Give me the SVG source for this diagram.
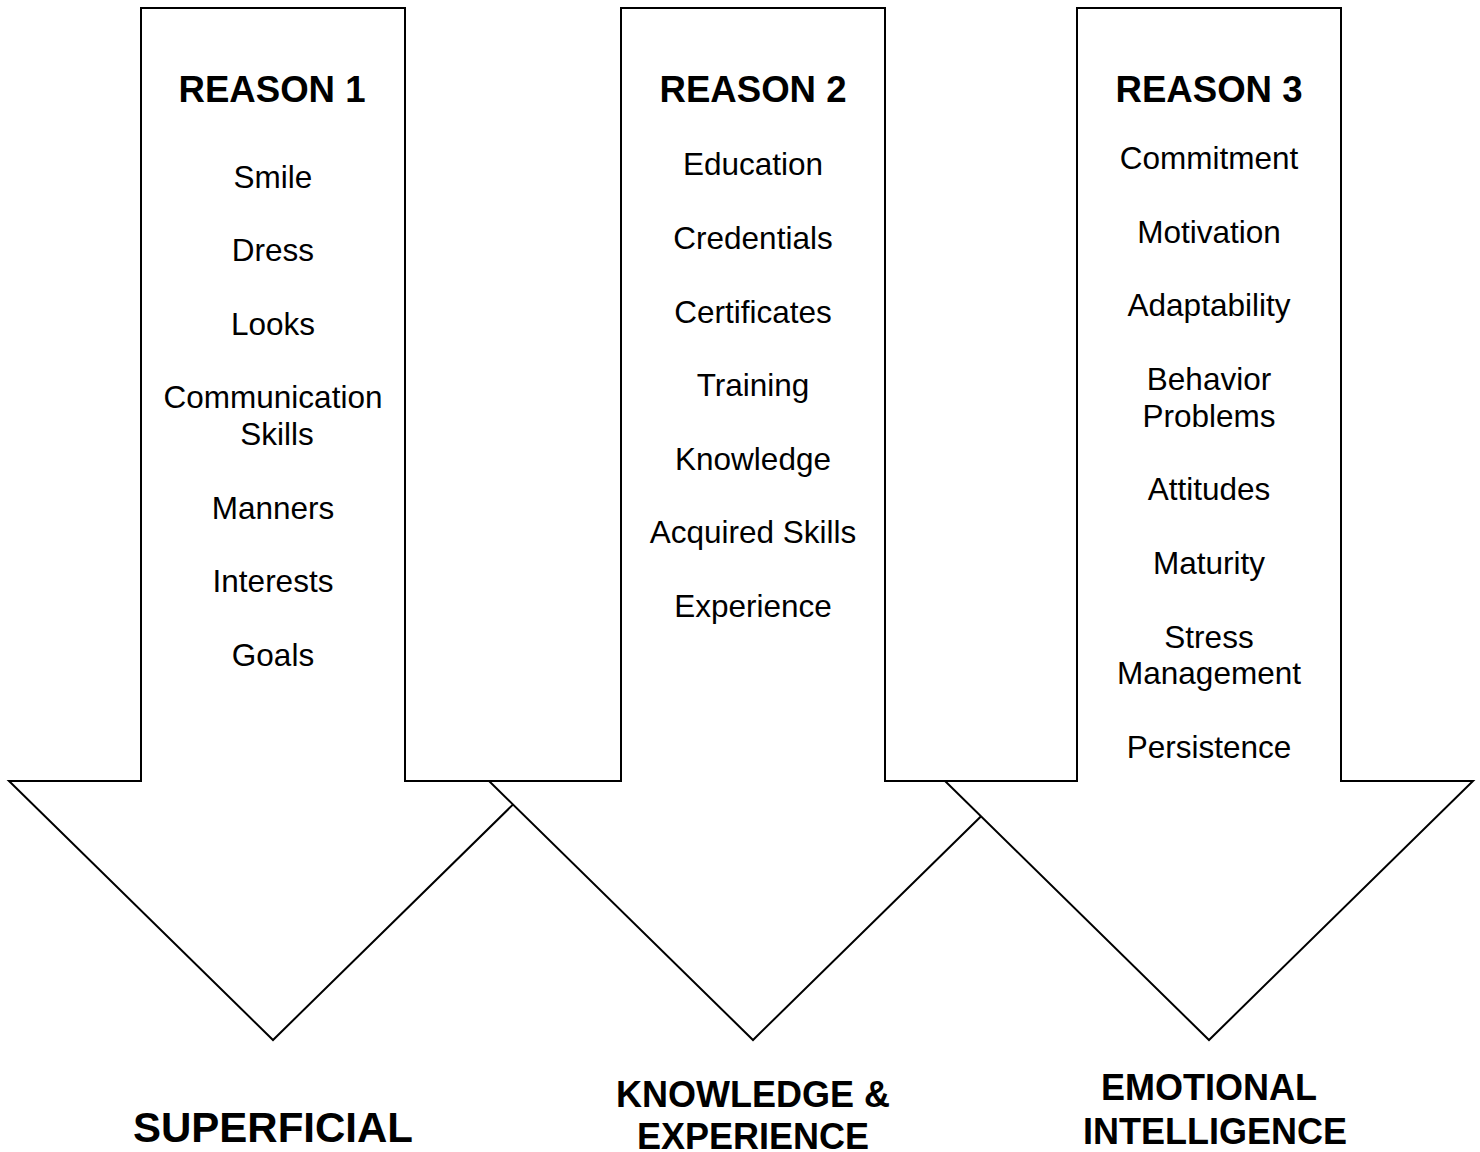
<svg xmlns="http://www.w3.org/2000/svg" width="1480" height="1152" viewBox="0 0 1480 1152">
<style>
.arrow{fill:#fff;stroke:#000;stroke-width:2;stroke-linejoin:miter}
text{font-family:"Liberation Sans",Arial,sans-serif;fill:#000;text-anchor:middle}
.h{font-weight:bold;font-size:36.6px}
.i{font-size:31.5px}
.b{font-weight:bold;font-size:36px}
.s{font-weight:bold;font-size:42px}
</style>
<rect width="1480" height="1152" fill="#fff"/>
<g id="connectors"></g>
<g id="reason1">
<polygon class="arrow" points="141,8 405,8 405,781 537,781 273,1040 9,781 141,781"/>
<text class="h" x="272" y="102">REASON 1</text>
<text class="i" x="273" y="188">Smile</text>
<text class="i" x="273" y="261">Dress</text>
<text class="i" x="273" y="335">Looks</text>
<text class="i" x="273" y="408">Communication</text>
<text class="i" x="277" y="445">Skills</text>
<text class="i" x="273" y="519">Manners</text>
<text class="i" x="273" y="592">Interests</text>
<text class="i" x="273" y="666">Goals</text>
</g>
<g id="reason2">
<polygon class="arrow" points="621,8 885,8 885,781 1017,781 753,1040 489,781 621,781"/>
<text class="h" x="753" y="102">REASON 2</text>
<text class="i" x="753" y="175">Education</text>
<text class="i" x="753" y="249">Credentials</text>
<text class="i" x="753" y="323">Certificates</text>
<text class="i" x="753" y="396">Training</text>
<text class="i" x="753" y="470">Knowledge</text>
<text class="i" x="753" y="543">Acquired Skills</text>
<text class="i" x="753" y="617">Experience</text>
</g>
<g id="reason3">
<polygon class="arrow" points="1077,8 1341,8 1341,781 1473,781 1209,1040 945,781 1077,781"/>
<text class="h" x="1209" y="102">REASON 3</text>
<text class="i" x="1209" y="169">Commitment</text>
<text class="i" x="1209" y="243">Motivation</text>
<text class="i" x="1209" y="316">Adaptability</text>
<text class="i" x="1209" y="390">Behavior</text>
<text class="i" x="1209" y="427">Problems</text>
<text class="i" x="1209" y="500">Attitudes</text>
<text class="i" x="1209" y="574">Maturity</text>
<text class="i" x="1209" y="648">Stress</text>
<text class="i" x="1209" y="684">Management</text>
<text class="i" x="1209" y="758">Persistence</text>
</g>
<g id="label1">
<text class="s" x="273" y="1142">SUPERFICIAL</text>
</g>
<g id="label2">
<text class="b" x="753" y="1107">KNOWLEDGE &amp;</text>
<text class="b" x="753" y="1149">EXPERIENCE</text>
</g>
<g id="label3">
<text class="b" x="1209" y="1100">EMOTIONAL</text>
<text class="b" x="1215" y="1144">INTELLIGENCE</text>
</g>
</svg>
